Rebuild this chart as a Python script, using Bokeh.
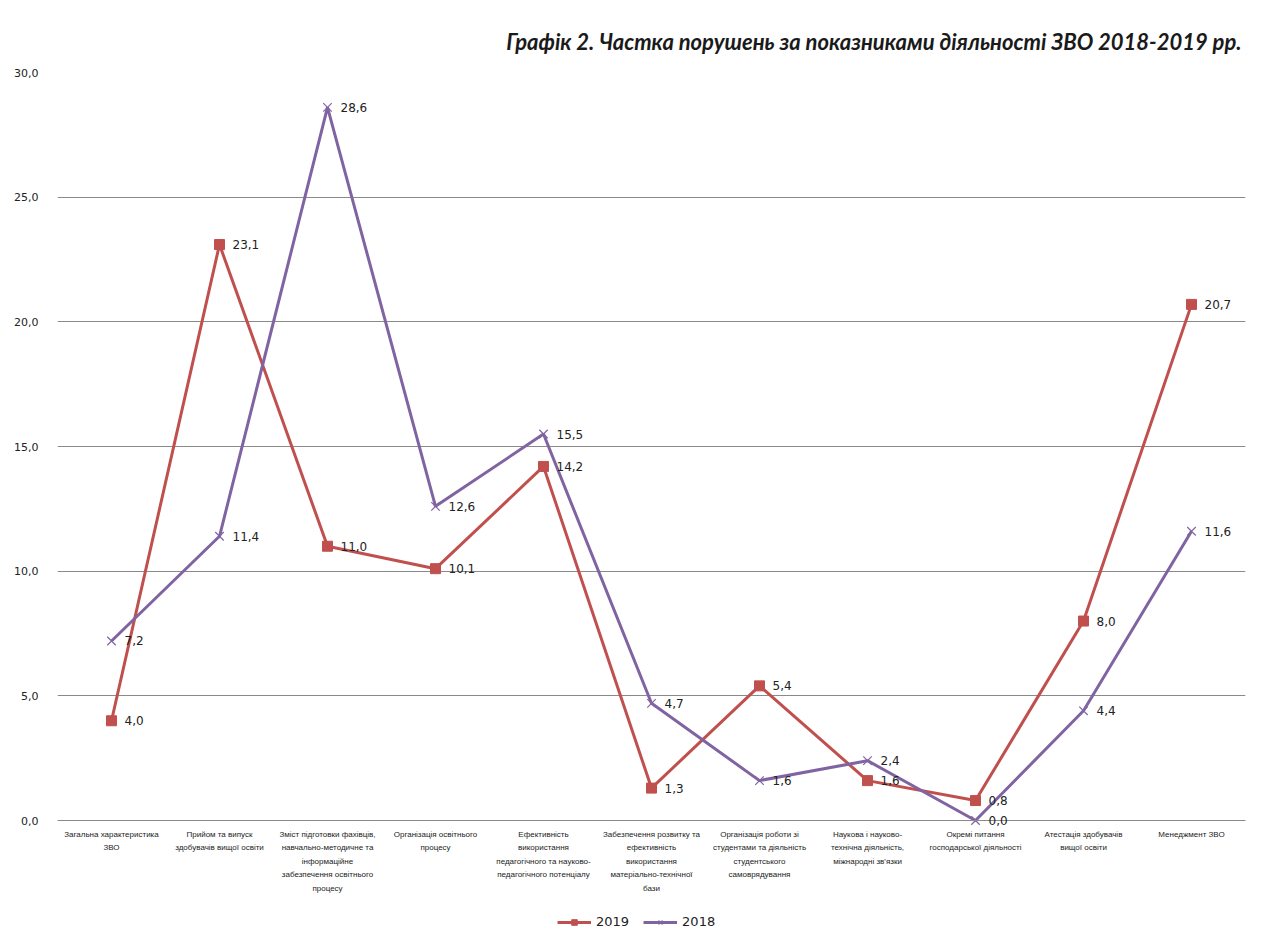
from bokeh.plotting import figure
from bokeh.models import ColumnDataSource, FixedTicker, Range1d, Legend, LegendItem, LabelSet, Span
from bokeh.core.properties import value
from bokeh.embed import file_html
from bokeh.resources import INLINE

categories = [
    "Загальна характеристика\nЗВО",
    "Прийом та випуск\nздобувачів вищої освіти",
    "Зміст підготовки фахівців,\nнавчально-методичне та\nінформаційне\nзабезпечення освітнього\nпроцесу",
    "Організація освітнього\nпроцесу",
    "Ефективність\nвикористання\nпедагогічного та науково-\nпедагогічного потенціалу",
    "Забезпечення розвитку та\nефективність\nвикористання\nматеріально-технічної\nбази",
    "Організація роботи зі\nстудентами та діяльність\nстудентського\nсамоврядування",
    "Наукова і науково-\nтехнічна діяльність,\nміжнародні зв'язки",
    "Окремі питання\nгосподарської діяльності",
    "Атестація здобувачів\nвищої освіти",
    "Менеджмент ЗВО",
]
values_2019 = [4.0, 23.1, 11.0, 10.1, 14.2, 1.3, 5.4, 1.6, 0.8, 8.0, 20.7]
values_2018 = [7.2, 11.4, 28.6, 12.6, 15.5, 4.7, 1.6, 2.4, 0.0, 4.4, 11.6]
y_ticks = [0, 5, 10, 15, 20, 25, 30]

RED = "#C0504D"
PURPLE = "#8064A2"

def fmt(v):
    return f"{v:.1f}".replace(".", ",")

# layout plan (pixels): value axis 0..30 spans 748px, extra 115px below for labels/legend
PLOT_PX = 748
EXTRA_PX = 115
y_min = -EXTRA_PX / PLOT_PX * 30

xs = list(range(len(categories)))
src19 = ColumnDataSource(dict(x=xs, y=values_2019, lab=[fmt(v) for v in values_2019]))
src18 = ColumnDataSource(dict(x=xs, y=values_2018, lab=[fmt(v) for v in values_2018]))
srccat = ColumnDataSource(dict(x=xs, y=[0] * len(xs), t=categories))

p = figure(frame_width=1188, frame_height=PLOT_PX + EXTRA_PX, output_backend="svg",
           toolbar_location=None,
           x_range=Range1d(-0.5, len(categories) - 0.5), y_range=Range1d(y_min, 30),
           min_border_left=57, min_border_right=8, min_border_top=72, min_border_bottom=0)
p.outline_line_color = None
p.background_fill_color = "white"
p.border_fill_color = "white"

p.title.text = "Графік 2. Частка порушень за показниками діяльності ЗВО 2018-2019 рр."
p.title.align = "right"
p.title.text_font = "Lato"
p.title.text_font_style = "bold italic"
p.title.text_font_size = "22px"
p.title.text_color = "#1a1a1a"
p.title.offset = 4
p.title.standoff = 36

# grid
p.xgrid.grid_line_color = None
p.ygrid.grid_line_color = "#8a8a8a"
p.ygrid.grid_line_width = 1
p.ygrid.ticker = FixedTicker(ticks=y_ticks)

# y axis
p.yaxis.ticker = FixedTicker(ticks=y_ticks)
p.yaxis.major_label_overrides = {t: fmt(t) for t in y_ticks}
p.yaxis.major_label_text_font = "DejaVu Sans"
p.yaxis.major_label_text_font_size = "11px"
p.yaxis.major_label_text_color = "#222222"
p.yaxis.axis_line_color = None
p.yaxis.major_tick_line_color = None
p.yaxis.minor_tick_line_color = None
p.yaxis.major_tick_out = 0
p.yaxis.major_tick_in = 0
p.yaxis.major_label_standoff = 19

# x axis drawn by hand inside the frame
p.xaxis.visible = False
p.add_layout(Span(location=0, dimension="width", line_color="#8a8a8a", line_width=1))
p.text("x", "y", text="t", source=srccat, text_align="center", text_baseline="top",
       y_offset=9, text_font=value("Liberation Sans"), text_font_size="8px",
       text_color="#222222", text_line_height=1.5)

# series
l19 = p.line("x", "y", source=src19, line_color=RED, line_width=3)
m19 = p.scatter("x", "y", source=src19, marker="square", size=10, fill_color=RED, line_color=RED)
l18 = p.line("x", "y", source=src18, line_color=PURPLE, line_width=3)
m18 = p.scatter("x", "y", source=src18, marker="x", size=12, line_color=PURPLE, line_width=1.2)

for src in (src19, src18):
    p.add_layout(LabelSet(x="x", y="y", text="lab", source=src, x_offset=13, y_offset=0,
                          text_baseline="middle", text_font=value("DejaVu Sans"),
                          text_font_size="12px", text_color="#222222"))

legend = Legend(items=[LegendItem(label="2019", renderers=[l19, m19]),
                       LegendItem(label="2018", renderers=[l18, m18])],
                orientation="horizontal", location=(500, 6),
                label_text_font="DejaVu Sans", label_text_font_size="13px",
                label_text_color="#222222", glyph_width=34, spacing=14,
                label_height=14, glyph_height=14,
                background_fill_alpha=0, border_line_color=None, padding=0,
                margin=0)
p.add_layout(legend, "center")

open("out.html", "w").write(file_html(p, INLINE))
